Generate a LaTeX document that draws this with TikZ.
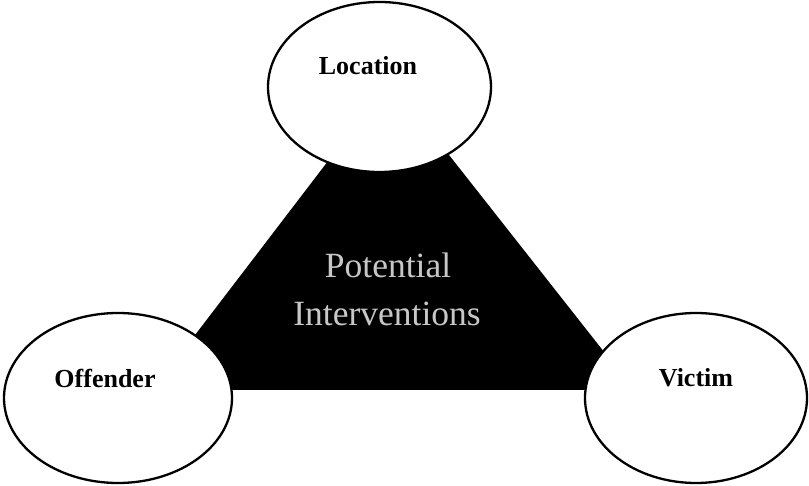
\documentclass[tikz,border=0pt]{standalone}
\usepackage{fontspec}
\setmainfont{Liberation Serif}
\usetikzlibrary{shapes.geometric}
\begin{document}
\begin{tikzpicture}[x=1pt,y=-1pt,
  oval/.style={ellipse,draw=black,line width=2.3pt,fill=white,inner sep=0pt},
  lbl/.style={font=\fontsize{26}{28}\selectfont\bfseries,anchor=base,text=black},
  mid/.style={font=\fontsize{35.5}{47}\selectfont,anchor=base,text=white!78!black}]
\useasboundingbox (0,0) rectangle (809,486);
\fill[white] (0,0) rectangle (809,486);
% black triangle
\coordinate (tA) at (390,80);
\coordinate (tB) at (153,390);
\coordinate (tC) at (634,390);
\fill[black] (tA) -- (tB) -- (tC) -- cycle;
% ellipses
\node[oval,minimum width=223pt,minimum height=170pt] (loc) at (379.5,87) {};
\node[oval,minimum width=228pt,minimum height=170pt] (off) at (118,398) {};
\node[oval,minimum width=222pt,minimum height=170pt] (vic) at (696,398) {};
% labels
\node[lbl] (locT) at (368,75) {Location};
\node[lbl] (offT) at (105,388) {Offender};
\node[lbl] (vicT) at (696,387) {Victim};
\node[mid] (pot) at (388,278) {Potential};
\node[mid] (int) at (387,326) {Interventions};
\end{tikzpicture}
\end{document}
